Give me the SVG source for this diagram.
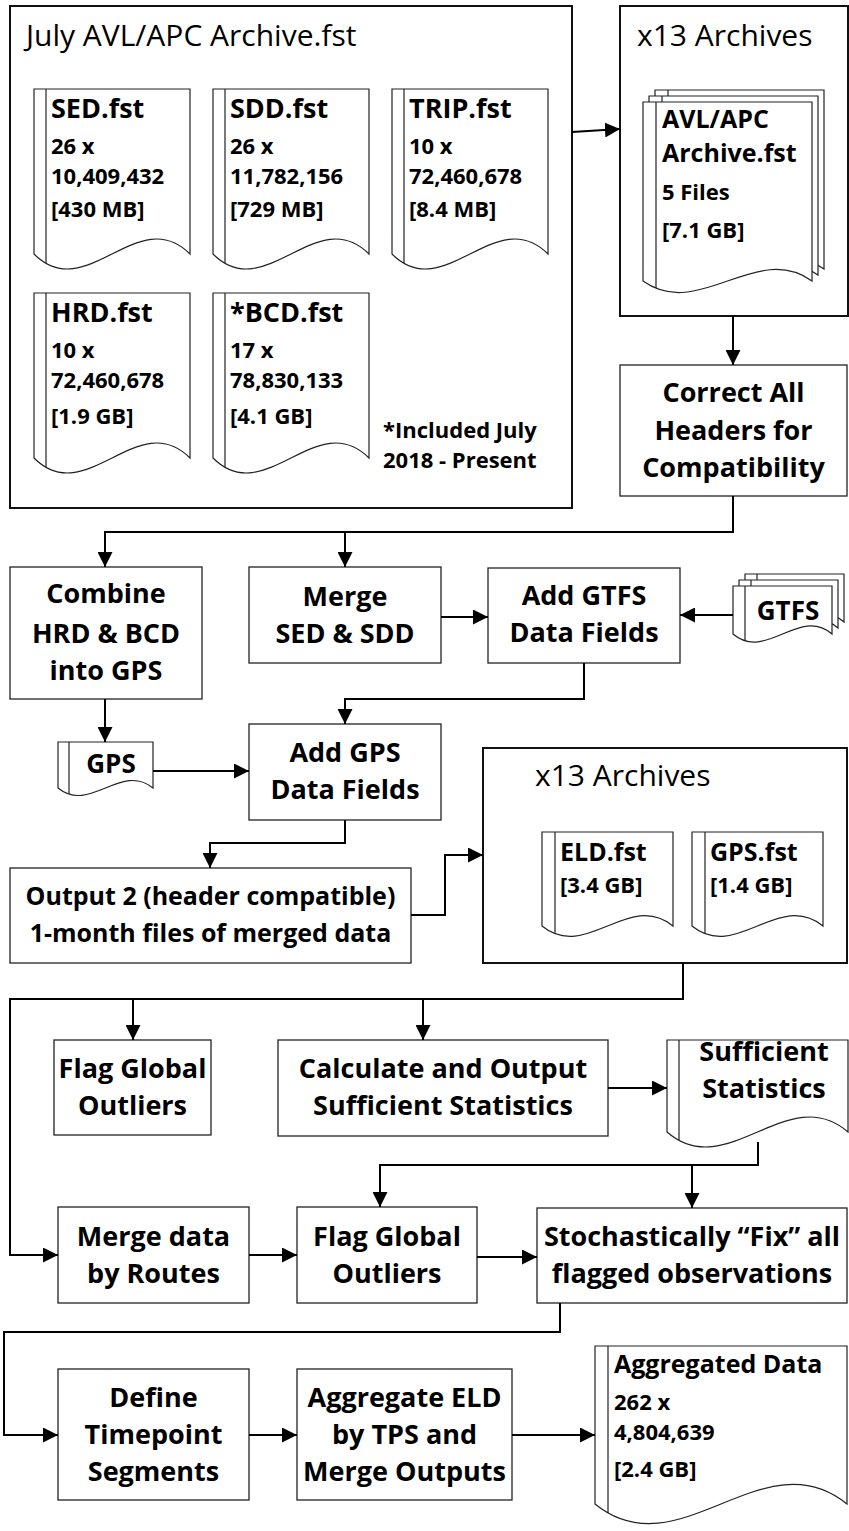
<svg xmlns="http://www.w3.org/2000/svg" width="849" height="1531" viewBox="0 0 849 1531">
<defs>
<style>
.frame{fill:#fff;stroke:#111;stroke-width:2}
.box{fill:#fff;stroke:#222;stroke-width:1.3}
.doc{fill:#fff;stroke:#222;stroke-width:1.2}
.rule{fill:none;stroke:#222;stroke-width:1.2}
.wire{fill:none;stroke:#000;stroke-width:2;marker-end:url(#tip)}
.t{font-family:"Open Sans","Liberation Sans",sans-serif;font-weight:bold;font-size:27px;fill:#000}
.m{text-anchor:middle}
.r{font-weight:normal;font-size:30px}
.s{font-size:22px}
.h{font-size:25px}
.w{font-size:25px}
</style>
<marker id="tip" markerUnits="userSpaceOnUse" markerWidth="15" markerHeight="15" refX="15" refY="7.5" orient="auto">
<path d="M0,0 L15,7.5 L0,15 Z" fill="#000"/>
</marker>
</defs>
<rect width="849" height="1531" fill="#fff"/>

<!-- monthly archive container with its five files -->
<g id="july-archive">
<rect class="frame" x="10" y="6" width="562" height="502"/>
<text class="t r" x="26" y="46">July AVL/APC Archive.fst</text>
</g>
<g id="sed">
<path class="doc" d="M34,89 H190 V254 C138,202 86,306 34,254 Z"/>
<path class="rule" d="M46,89 V263"/>
<text class="t" x="51" y="118">SED.fst</text>
<text class="t s" x="51" y="154">26 x</text>
<text class="t s" x="51" y="184">10,409,432</text>
<text class="t s" x="51" y="217">[430 MB]</text>
</g>
<g id="sdd">
<path class="doc" d="M213,89 H369 V254 C317,202 265,306 213,254 Z"/>
<path class="rule" d="M225,89 V263"/>
<text class="t" x="230" y="118">SDD.fst</text>
<text class="t s" x="230" y="154">26 x</text>
<text class="t s" x="230" y="184">11,782,156</text>
<text class="t s" x="230" y="217">[729 MB]</text>
</g>
<g id="trip">
<path class="doc" d="M392,89 H548 V254 C496,202 444,306 392,254 Z"/>
<path class="rule" d="M404,89 V263"/>
<text class="t" x="409" y="118">TRIP.fst</text>
<text class="t s" x="409" y="154">10 x</text>
<text class="t s" x="409" y="184">72,460,678</text>
<text class="t s" x="409" y="217">[8.4 MB]</text>
</g>
<g id="hrd">
<path class="doc" d="M34,293 H190 V458 C138,406 86,510 34,458 Z"/>
<path class="rule" d="M46,293 V467"/>
<text class="t" x="51" y="322">HRD.fst</text>
<text class="t s" x="51" y="358">10 x</text>
<text class="t s" x="51" y="388">72,460,678</text>
<text class="t s" x="51" y="424">[1.9 GB]</text>
</g>
<g id="bcd">
<path class="doc" d="M213,293 H369 V458 C317,406 265,510 213,458 Z"/>
<path class="rule" d="M225,293 V467"/>
<text class="t" x="230" y="322">*BCD.fst</text>
<text class="t s" x="230" y="358">17 x</text>
<text class="t s" x="230" y="388">78,830,133</text>
<text class="t s" x="230" y="424">[4.1 GB]</text>
</g>
<g id="bcd-note">
<text class="t s" x="383" y="438">*Included July</text>
<text class="t s" x="383" y="468">2018 - Present</text>
</g>

<!-- thirteen monthly archives -->
<g id="archives-13">
<rect class="frame" x="620" y="6" width="228" height="310"/>
<text class="t r" x="637" y="46">x13 Archives</text>
<path class="doc" d="M655,90 H824 V269 C768,229 711,309 655,269 Z"/>
<path class="rule" d="M668,90 V276"/>
<path class="doc" d="M649,96 H818 V275 C762,235 705,315 649,275 Z"/>
<path class="rule" d="M662,96 V282"/>
<path class="doc" d="M643,102 H812 V281 C756,241 699,321 643,281 Z"/>
<path class="rule" d="M656,102 V288"/>
<text class="t h" x="662" y="128">AVL/APC</text>
<text class="t h" x="662" y="162">Archive.fst</text>
<text class="t s" x="662" y="200">5 Files</text>
<text class="t s" x="662" y="238">[7.1 GB]</text>
</g>

<g id="correct-headers">
<rect class="box" x="620" y="365" width="227" height="131"/>
<text class="t m" x="733.5" y="402">Correct All</text>
<text class="t m" x="733.5" y="440">Headers for</text>
<text class="t m" x="733.5" y="477">Compatibility</text>
</g>

<g id="combine">
<rect class="box" x="10" y="567" width="192" height="132"/>
<text class="t m" x="106" y="603">Combine</text>
<text class="t m" x="106" y="643">HRD &amp; BCD</text>
<text class="t m" x="106" y="680">into GPS</text>
</g>
<g id="merge-sed-sdd">
<rect class="box" x="249" y="567" width="192" height="96"/>
<text class="t m" x="345" y="606">Merge</text>
<text class="t m" x="345" y="643">SED &amp; SDD</text>
</g>
<g id="add-gtfs">
<rect class="box" x="488" y="568" width="192" height="95"/>
<text class="t m" x="584" y="605">Add GTFS</text>
<text class="t m" x="584" y="642">Data Fields</text>
</g>
<g id="gtfs">
<path class="doc" d="M745,574 H844 V622 C811,594 778,650 745,622 Z"/>
<path class="rule" d="M757,574 V629"/>
<path class="doc" d="M739,580 H838 V628 C805,600 772,656 739,628 Z"/>
<path class="rule" d="M751,580 V635"/>
<path class="doc" d="M733,586 H832 V634 C799,606 766,662 733,634 Z"/>
<path class="rule" d="M745,586 V641"/>
<text class="t m" x="788" y="620" style="font-size:26px">GTFS</text>
</g>

<g id="gps-doc">
<path class="doc" d="M58,742 H153 V788 C121,762 90,814 58,788 Z"/>
<path class="rule" d="M69,742 V794"/>
<text class="t m" x="111" y="773" style="font-size:26px">GPS</text>
</g>
<g id="add-gps">
<rect class="box" x="249" y="724" width="192" height="96"/>
<text class="t m" x="345" y="762">Add GPS</text>
<text class="t m" x="345" y="799">Data Fields</text>
</g>

<g id="output-merged">
<rect class="box" x="10" y="868" width="401" height="95"/>
<text class="t m w" x="210.5" y="905">Output 2 (header compatible)</text>
<text class="t m w" x="210.5" y="942">1-month files of merged data</text>
</g>

<g id="merged-archives">
<rect class="frame" x="483" y="748" width="364" height="215"/>
<text class="t r" x="535" y="786">x13 Archives</text>
<path class="doc" d="M542,832 H673 V926 C629,890 586,962 542,926 Z"/>
<path class="rule" d="M555,832 V934"/>
<text class="t h" x="560" y="861">ELD.fst</text>
<text class="t s" x="560" y="893">[3.4 GB]</text>
<path class="doc" d="M692,832 H823 V926 C779,890 736,962 692,926 Z"/>
<path class="rule" d="M705,832 V934"/>
<text class="t h" x="710" y="861">GPS.fst</text>
<text class="t s" x="710" y="893">[1.4 GB]</text>
</g>

<g id="flag-global-1">
<rect class="box" x="54" y="1040" width="157" height="95"/>
<text class="t m" x="132.5" y="1078">Flag Global</text>
<text class="t m" x="132.5" y="1115">Outliers</text>
</g>
<g id="calc-stats">
<rect class="box" x="278" y="1040" width="330" height="96"/>
<text class="t m" x="443" y="1078">Calculate and Output</text>
<text class="t m" x="443" y="1115">Sufficient Statistics</text>
</g>
<g id="stats-doc">
<path class="doc" d="M667,1040 H848 V1132 C788,1080 727,1184 667,1132 Z"/>
<path class="rule" d="M679,1040 V1140"/>
<text class="t m" x="764" y="1061">Sufficient</text>
<text class="t m" x="764" y="1098">Statistics</text>
</g>

<g id="merge-routes">
<rect class="box" x="58" y="1207" width="191" height="96"/>
<text class="t m" x="153.5" y="1246">Merge data</text>
<text class="t m" x="153.5" y="1283">by Routes</text>
</g>
<g id="flag-global-2">
<rect class="box" x="297" y="1207" width="180" height="96"/>
<text class="t m" x="387" y="1246">Flag Global</text>
<text class="t m" x="387" y="1283">Outliers</text>
</g>
<g id="fix-flagged">
<rect class="box" x="537" y="1208" width="310" height="95"/>
<text class="t m" x="692" y="1246">Stochastically “Fix” all</text>
<text class="t m" x="692" y="1283">flagged observations</text>
</g>

<g id="define-tps">
<rect class="box" x="58" y="1369" width="191" height="131"/>
<text class="t m" x="153.5" y="1407">Define</text>
<text class="t m" x="153.5" y="1444">Timepoint</text>
<text class="t m" x="153.5" y="1481">Segments</text>
</g>
<g id="aggregate">
<rect class="box" x="297" y="1369" width="215" height="131"/>
<text class="t m" x="404.5" y="1407">Aggregate ELD</text>
<text class="t m" x="404.5" y="1444">by TPS and</text>
<text class="t m" x="404.5" y="1481">Merge Outputs</text>
</g>
<g id="aggregated-data">
<path class="doc" d="M595,1346 H847 V1504 C763,1436 679,1572 595,1504 Z"/>
<path class="rule" d="M608,1346 V1513"/>
<text class="t w" x="614" y="1373">Aggregated Data</text>
<text class="t s" x="614" y="1410">262 x</text>
<text class="t s" x="614" y="1440">4,804,639</text>
<text class="t s" x="614" y="1477">[2.4 GB]</text>
</g>

<!-- connectors -->
<g id="connectors">
<path class="wire" d="M572,132 L620,129"/>
<path class="wire" d="M733,316 V365"/>
<path class="wire" d="M733,496 V532 H105 V567"/>
<path class="wire" d="M345,532 V567"/>
<path class="wire" d="M441,617 H488"/>
<path class="wire" d="M733,615 H680"/>
<path class="wire" d="M584,663 V699 H345 V724"/>
<path class="wire" d="M105,699 V742"/>
<path class="wire" d="M153,771 H249"/>
<path class="wire" d="M345,820 V843 H210 V868"/>
<path class="wire" d="M411,915 H445 V855 H483"/>
<path class="wire" d="M683,963 V999 H10 V1255 H58"/>
<path class="wire" d="M133,999 V1040"/>
<path class="wire" d="M423,999 V1040"/>
<path class="wire" d="M608,1088 H667"/>
<path class="wire" d="M758,1142 V1165 H380 V1207"/>
<path class="wire" d="M692,1165 V1208"/>
<path class="wire" d="M249,1255 H297"/>
<path class="wire" d="M477,1257 H537"/>
<path class="wire" d="M560,1303 V1332 H4 V1435 H58"/>
<path class="wire" d="M249,1435 H297"/>
<path class="wire" d="M512,1435 H595"/>
</g>
</svg>
